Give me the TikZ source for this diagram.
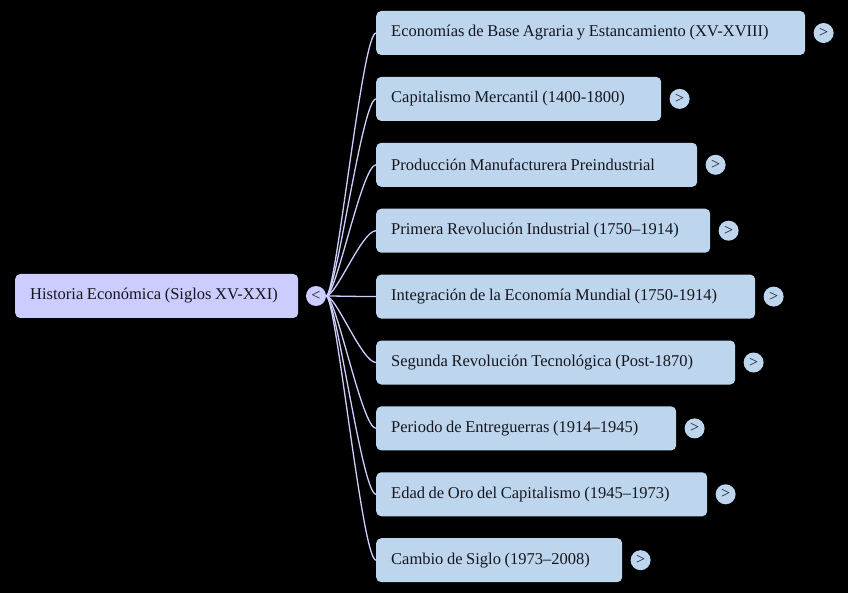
\documentclass[tikz,border=0pt]{standalone}
\usepackage{fontspec}
\setmainfont{Liberation Serif}
\usetikzlibrary{positioning}
\definecolor{rootfill}{RGB}{204,204,255}
\definecolor{leaffill}{RGB}{189,214,238}
\definecolor{linkcol}{RGB}{206,206,250}
\definecolor{inkdark}{RGB}{22,22,30}
\newcommand\boxfont{\fontsize{16.5}{19}\selectfont\fontdimen2\font=3.6pt}

\begin{document}
\begin{tikzpicture}[x=1pt,y=-1pt,
    rootbox/.style={fill=rootfill,rounded corners=5pt,minimum height=44pt,inner xsep=15pt,
        anchor=west,text=inkdark,font=\boxfont},
    leafbox/.style={rootbox,fill=leaffill},
    knob/.style={circle,fill=leaffill,minimum size=20pt,inner sep=0pt,text=inkdark,
        font=\fontsize{16}{16}\selectfont},
    link/.style={draw=linkcol,line width=1.3pt}]
    \fill[black] (0,0) rectangle (848,593);
    \useasboundingbox (0,0) rectangle (848,593);
    \node[rootbox] (root) at (15,296) {\makebox[253pt][l]{Historia Económica (Siglos XV-XXI)}};
    \node[knob,fill=rootfill] (fold) at (316,296) {<};
    \foreach \i/\w/\lbl in {1/399/Economías de Base Agraria y Estancamiento (XV-XVIII),
            2/255/Capitalismo Mercantil (1400-1800),
            3/291/Producción Manufacturera Preindustrial,
            4/304/Primera Revolución Industrial (1750–1914),
            5/349/Integración de la Economía Mundial (1750-1914),
            6/329/Segunda Revolución Tecnológica (Post-1870),
            7/270/Periodo de Entreguerras (1914–1945),
            8/301/Edad de Oro del Capitalismo (1945–1973),
            9/216/Cambio de Siglo (1973–2008)} {
        \coordinate (p\i) at (376,{33+65.9*(\i-1)});
        \draw[link] (fold.east) .. controls +(10,0) and +(-14,0) .. (p\i);
        \node[leafbox] (c\i) at (p\i) {\makebox[\w pt][l]{\lbl}};
        \node[knob,right=8pt of c\i] (e\i) {>};
    }
\end{tikzpicture}
\end{document}
